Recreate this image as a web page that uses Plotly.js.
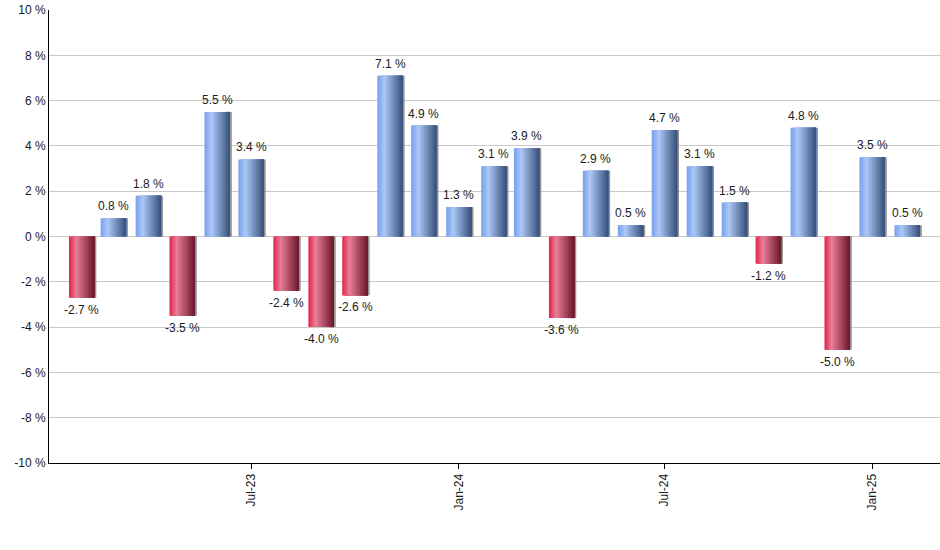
<!DOCTYPE html>
<html>
<head>
<meta charset="utf-8">
<script src="https://cdn.plot.ly/plotly-3.0.1.min.js"></script>
<style>html,body{margin:0;padding:0;background:#fff;}#chart{width:940px;height:550px;}</style>
</head>
<body>
<div id="chart"></div>
<script>
// ---- data ----
const months = ["2023-02-01","2023-03-01","2023-04-01","2023-05-01","2023-06-01","2023-07-01",
  "2023-08-01","2023-09-01","2023-10-01","2023-11-01","2023-12-01","2024-01-01",
  "2024-02-01","2024-03-01","2024-04-01","2024-05-01","2024-06-01","2024-07-01",
  "2024-08-01","2024-09-01","2024-10-01","2024-11-01","2024-12-01","2025-01-01","2025-02-01"];
const returns = [-2.7, 0.8, 1.8, -3.5, 5.5, 3.4, -2.4, -4.0, -2.6, 7.1, 4.9, 1.3, 3.1, 3.9,
  -3.6, 2.9, 0.5, 4.7, 3.1, 1.5, -1.2, 4.8, -5.0, 3.5, 0.5];
const tickDates = ["2023-07-01","2024-01-01","2024-07-01","2025-01-01"];
const tickLabels = ["Jul-23","Jan-24","Jul-24","Jan-25"];
const yTickVals = [-10, -8, -6, -4, -2, 0, 2, 4, 6, 8, 10];
const yTickText = ["-10 %", "-8 %", "-6 %", "-4 %", "-2 %", "0 %", "2 %", "4 %", "6 %", "8 %", "10 %"];

// ---- styling helpers ----
const DAY = 86400000;
const W = 22.6 * DAY;          // bar width
const N = 16;                  // gradient slices
const sw = W / N;
function ramp(stops, t) {
  for (let i = 0; i < stops.length - 1; i++) {
    const a = stops[i], b = stops[i + 1];
    if (t >= a[0] && t <= b[0]) {
      const f = (t - a[0]) / (b[0] - a[0]);
      const c = [0, 1, 2].map(k => Math.round(a[1][k] + (b[1][k] - a[1][k]) * f));
      return `rgb(${c[0]},${c[1]},${c[2]})`;
    }
  }
  const l = stops[stops.length - 1][1];
  return `rgb(${l[0]},${l[1]},${l[2]})`;
}
const blueStops = [[0, [118, 158, 236]], [0.28, [172, 200, 247]], [1, [54, 78, 120]]];
const redStops = [[0, [222, 34, 74]], [0.28, [234, 126, 152]], [1, [104, 22, 42]]];

const traces = [];
// shadow on right side
traces.push({
  type: 'bar', x: months, y: returns, width: W / 2 + 1.6 * DAY, offset: 0,
  marker: { color: 'rgba(120,120,120,0.8)', line: { width: 0 } },
  hoverinfo: 'skip', showlegend: false
});
// gradient: each slice spans from its left edge to the bar's right edge, drawn left to right
for (let i = 0; i < N; i++) {
  const t = (i + 0.5) / N;
  traces.push({
    type: 'bar', x: months, y: returns,
    width: W - i * sw, offset: -W / 2 + i * sw,
    marker: { color: returns.map(v => v >= 0 ? ramp(blueStops, t) : ramp(redStops, t)), line: { width: 0 } },
    hoverinfo: 'skip', showlegend: false
  });
}

// value labels as annotations
const annotations = months.map((m, i) => ({
  x: m, y: returns[i], xref: 'x', yref: 'y',
  text: returns[i].toFixed(1) + ' %',
  showarrow: false,
  yanchor: returns[i] >= 0 ? 'bottom' : 'top',
  yshift: returns[i] >= 0 ? 3 : -3,
  font: { family: 'Liberation Sans, Arial, sans-serif', size: 12, color: '#1a1a1a' }
}));

const layout = {
  width: 940, height: 550,
  margin: { l: 49, r: 0, t: 10, b: 87 },
  paper_bgcolor: '#fff', plot_bgcolor: '#fff',
  barmode: 'overlay',
  showlegend: false,
  annotations: annotations,
  font: { family: 'Liberation Sans, Arial, sans-serif', size: 12, color: '#1a1a1a' },
  xaxis: {
    type: 'date',
    range: ['2023-01-03', '2025-03-02'],
    tickmode: 'array', tickvals: tickDates, ticktext: tickLabels,
    tickangle: -90,
    ticks: 'outside', ticklen: 5, tickcolor: '#000',
    showline: true, linecolor: '#000', linewidth: 1,
    showgrid: false, zeroline: false,
    tickfont: { size: 12, color: '#1a1a1a' }
  },
  yaxis: {
    range: [-10, 10],
    tickmode: 'array', tickvals: yTickVals, ticktext: yTickText,
    ticks: '',
    showline: true, linecolor: '#000', linewidth: 1,
    showgrid: true, gridcolor: '#c8c8c8', gridwidth: 1,
    zeroline: false,
    tickfont: { size: 12, color: '#1a1a1a' }
  }
};
Plotly.newPlot('chart', traces, layout, { displayModeBar: false, staticPlot: true });
</script>
</body>
</html>
